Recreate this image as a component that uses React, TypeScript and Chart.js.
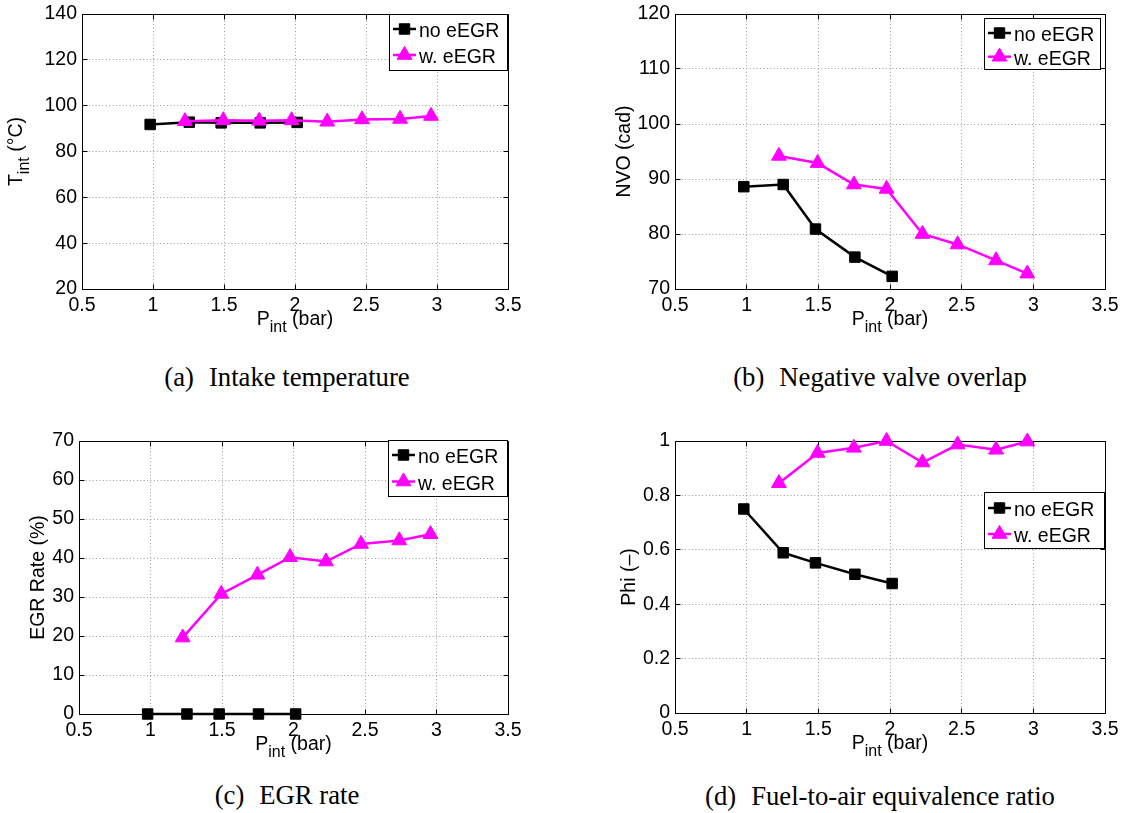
import React, { useEffect, useRef } from 'react';
import { Chart, registerables } from 'chart.js';

Chart.register(...registerables);

// ---------------- data ----------------
const xNoEGR = [0.98, 1.255, 1.48, 1.755, 2.015];
const xWithEGR = [1.225, 1.495, 1.748, 1.976, 2.227, 2.472, 2.74, 2.958];

const tempNoEGR = [91.8, 92.8, 92.5, 92.5, 92.7];
const tempWithEGR = [93.2, 93.6, 93.4, 93.6, 93.0, 94.0, 94.2, 95.5];

const nvoNoEGR = [88.6, 89.0, 80.9, 75.8, 72.3];
const nvoWithEGR = [94.2, 92.9, 89.0, 88.2, 80.0, 78.1, 75.2, 72.8];

const egrNoEGR = [0, 0, 0, 0, 0];
const egrWithEGR = [19.6, 30.8, 35.7, 40.2, 39.1, 43.6, 44.5, 46.1];

const phiNoEGR = [0.75, 0.589, 0.552, 0.51, 0.476];
const phiWithEGR = [0.845, 0.956, 0.975, 1.0, 0.921, 0.987, 0.968, 0.998];

const xTicks = [0.5, 1, 1.5, 2, 2.5, 3, 3.5];
const yTicksTemp = [20, 40, 60, 80, 100, 120, 140];
const yTicksNvo = [70, 80, 90, 100, 110, 120];
const yTicksEgr = [0, 10, 20, 30, 40, 50, 60, 70];
const yTicksPhi = [0, 0.2, 0.4, 0.6, 0.8, 1];

const seriesLabels = ['no eEGR', 'w. eEGR'];
const xTitleParts = ['P', 'int', ' (bar)'];
const captionTags = ['(a)', '(b)', '(c)', '(d)'];
const captionTexts = [
  'Intake temperature',
  'Negative valve overlap',
  'EGR rate',
  'Fuel-to-air equivalence ratio',
];

// ---------------- style ----------------
const BLACK = '#000000';
const MAGENTA = '#ff00ff';
const GRID = '#9a9a9a';
const SANS = '"Liberation Sans", Arial, Helvetica, sans-serif';
const SERIF = '"Liberation Serif", "Times New Roman", serif';
const FS = 19.5;
const SUB = 16;
const SUB_DROP = 7;
const CAP_FS = 26.7;

const ML = 78;
const MT = 16;
const MR = 24;
const MB = 50;

const RECT_R = 7.4;
const TRI_R = 8.6;
const LINE_W = 2.5;

type LegendCfg = { inset: number; dy: number; w: number; h: number; r1: number; r2: number };
type PanelCfg = {
  left: number;
  top: number;
  w: number;
  h: number;
  yTicks: number[];
  yNo: number[];
  yW: number[];
  yTitle: string[];
  yTitleOff: number;
  legend: LegendCfg;
  cap: number;
  capX: number;
  capBase: number;
};

const panels: PanelCfg[] = [
  {
    left: 82, top: 14, w: 426, h: 275,
    yTicks: yTicksTemp, yNo: tempNoEGR, yW: tempWithEGR,
    yTitle: ['T', 'int', ' (°C)'], yTitleOff: 60,
    legend: { inset: 0, dy: 0, w: 119, h: 57, r1: 15, r2: 41 },
    cap: 0, capX: 287, capBase: 386,
  },
  {
    left: 675, top: 14, w: 430, h: 275,
    yTicks: yTicksNvo, yNo: nvoNoEGR, yW: nvoWithEGR,
    yTitle: ['NVO (cad)', '', ''], yTitleOff: 45,
    legend: { inset: 4, dy: 4, w: 117, h: 52, r1: 15, r2: 38.7 },
    cap: 1, capX: 880, capBase: 386,
  },
  {
    left: 79, top: 441, w: 429, h: 273,
    yTicks: yTicksEgr, yNo: egrNoEGR, yW: egrWithEGR,
    yTitle: ['EGR Rate (%)', '', ''], yTitleOff: 35,
    legend: { inset: 0, dy: -1, w: 120, h: 57, r1: 15, r2: 41.5 },
    cap: 2, capX: 287, capBase: 804,
  },
  {
    left: 675, top: 441, w: 430, h: 272,
    yTicks: yTicksPhi, yNo: phiNoEGR, yW: phiWithEGR,
    yTitle: ['Phi (–)', '', ''], yTitleOff: 40,
    legend: { inset: 0, dy: 51, w: 121, h: 57, r1: 16, r2: 42 },
    cap: 3, capX: 880, capBase: 805,
  },
];

const align = (p: number) => Math.round(p - 0.5) + 0.5;

function drawRich(ctx: CanvasRenderingContext2D, parts: string[], x: number, y: number, rot: boolean) {
  const segs = [
    { text: parts[0] || '', size: FS, dy: 0 },
    { text: parts[1] || '', size: SUB, dy: SUB_DROP },
    { text: parts[2] || '', size: FS, dy: 0 },
  ].filter((s) => s.text.length > 0);
  ctx.save();
  ctx.translate(x, y);
  if (rot) ctx.rotate(-Math.PI / 2);
  ctx.fillStyle = BLACK;
  ctx.textAlign = 'left';
  ctx.textBaseline = 'alphabetic';
  let total = 0;
  const widths = segs.map((s) => {
    ctx.font = `${s.size}px ${SANS}`;
    const w = ctx.measureText(s.text).width;
    total += w;
    return w;
  });
  let cx = -total / 2;
  segs.forEach((s, i) => {
    ctx.font = `${s.size}px ${SANS}`;
    ctx.fillText(s.text, cx, s.dy);
    cx += widths[i];
  });
  ctx.restore();
}

function drawMarker(ctx: CanvasRenderingContext2D, style: string, x: number, y: number, color: string) {
  ctx.save();
  ctx.fillStyle = color;
  ctx.strokeStyle = color;
  ctx.lineWidth = 1;
  ctx.beginPath();
  if (style === 'rect') {
    const s = Math.SQRT1_2 * RECT_R;
    ctx.rect(x - s, y - s, 2 * s, 2 * s);
  } else {
    const r = TRI_R;
    ctx.moveTo(x, y - r);
    ctx.lineTo(x + r * Math.sin((2 * Math.PI) / 3), y - r * Math.cos((2 * Math.PI) / 3));
    ctx.lineTo(x + r * Math.sin((4 * Math.PI) / 3), y - r * Math.cos((4 * Math.PI) / 3));
    ctx.closePath();
  }
  ctx.fill();
  ctx.stroke();
  ctx.restore();
}

const decorPlugin = {
  id: 'decor',
  beforeDatasetsDraw(chart: any) {
    const { ctx, chartArea: a } = chart;
    const xs = chart.scales.x;
    const ys = chart.scales.y;
    const L = align(a.left);
    const R = align(a.right);
    const T = align(a.top);
    const B = align(a.bottom);
    const tk = 5;
    ctx.save();
    ctx.strokeStyle = BLACK;
    ctx.lineWidth = 1;
    ctx.setLineDash([]);
    ctx.beginPath();
    ctx.rect(L, T, R - L, B - T);
    xs.ticks.forEach((t: any) => {
      const px = align(xs.getPixelForValue(t.value));
      ctx.moveTo(px, B);
      ctx.lineTo(px, B - tk);
      ctx.moveTo(px, T);
      ctx.lineTo(px, T + tk);
    });
    ys.ticks.forEach((t: any) => {
      const py = align(ys.getPixelForValue(t.value));
      ctx.moveTo(L, py);
      ctx.lineTo(L + tk, py);
      ctx.moveTo(R, py);
      ctx.lineTo(R - tk, py);
    });
    ctx.stroke();
    ctx.restore();
  },
  afterDraw(chart: any, _args: any, opts: any) {
    const { ctx, chartArea: a } = chart;
    const cfg: PanelCfg = opts.cfg;
    // axis titles
    drawRich(ctx, xTitleParts, (a.left + a.right) / 2, a.bottom + 36.4, false);
    drawRich(ctx, cfg.yTitle, a.left - cfg.yTitleOff, (a.top + a.bottom) / 2, true);
    // legend
    const lg = cfg.legend;
    const bx = Math.round(a.right - lg.inset - lg.w);
    const by = Math.round(a.top + lg.dy);
    ctx.save();
    ctx.fillStyle = '#ffffff';
    ctx.fillRect(bx, by, lg.w, lg.h);
    ctx.strokeStyle = BLACK;
    ctx.lineWidth = 1;
    ctx.strokeRect(bx + 0.5, by + 0.5, lg.w - 1, lg.h - 1);
    const rows = [lg.r1, lg.r2];
    chart.data.datasets.forEach((ds: any, i: number) => {
      const ry = by + rows[i];
      ctx.strokeStyle = ds.borderColor;
      ctx.lineWidth = LINE_W;
      ctx.beginPath();
      ctx.moveTo(bx + 4, ry);
      ctx.lineTo(bx + 27, ry);
      ctx.stroke();
      drawMarker(ctx, ds.pointStyle, bx + 15.5, ry, ds.borderColor);
      ctx.fillStyle = BLACK;
      ctx.font = `${FS}px ${SANS}`;
      ctx.textAlign = 'left';
      ctx.textBaseline = 'alphabetic';
      ctx.fillText(ds.label, bx + 30, ry + 8);
    });
    ctx.restore();
  },
};

function PanelChart({ cfg }: { cfg: PanelCfg }) {
  const ref = useRef<HTMLCanvasElement | null>(null);
  const cw = ML + cfg.w + MR;
  const ch = MT + cfg.h + MB;

  useEffect(() => {
    const canvas = ref.current;
    if (!canvas) return;
    const zeroPad = (s: any) => {
      s.paddingLeft = 0;
      s.paddingRight = 0;
      s.paddingTop = 0;
      s.paddingBottom = 0;
    };
    const tickFont = { family: SANS, size: FS };
    const chart = new Chart(canvas, {
      type: 'scatter',
      data: {
        datasets: [
          {
            label: seriesLabels[0],
            data: xNoEGR.map((x, i) => ({ x, y: cfg.yNo[i] })),
            borderColor: BLACK,
            backgroundColor: BLACK,
            pointBackgroundColor: BLACK,
            pointBorderColor: BLACK,
            pointStyle: 'rect',
            pointRadius: RECT_R,
            pointBorderWidth: 1,
            borderWidth: LINE_W,
            showLine: true,
            tension: 0,
            clip: false,
            order: 1,
          },
          {
            label: seriesLabels[1],
            data: xWithEGR.map((x, i) => ({ x, y: cfg.yW[i] })),
            borderColor: MAGENTA,
            backgroundColor: MAGENTA,
            pointBackgroundColor: MAGENTA,
            pointBorderColor: MAGENTA,
            pointStyle: 'triangle',
            pointRadius: TRI_R,
            pointBorderWidth: 1,
            borderWidth: LINE_W,
            showLine: true,
            tension: 0,
            clip: false,
            order: 0,
          },
        ],
      } as any,
      options: {
        responsive: false,
        animation: false,
        devicePixelRatio: 1,
        events: [],
        layout: { padding: { left: 0, top: MT, right: MR, bottom: 0 } },
        plugins: {
          legend: { display: false },
          tooltip: { enabled: false },
          decor: { cfg },
        } as any,
        scales: {
          x: {
            type: 'linear',
            min: xTicks[0],
            max: xTicks[xTicks.length - 1],
            afterBuildTicks: (s: any) => {
              s.ticks = xTicks.map((v) => ({ value: v }));
            },
            afterFit: (s: any) => {
              s.height = MB;
              zeroPad(s);
            },
            grid: { color: GRID, lineWidth: 1, drawTicks: false },
            border: { display: false, dash: [1, 2.4] },
            ticks: {
              autoSkip: false,
              maxRotation: 0,
              minRotation: 0,
              padding: 4.5,
              color: BLACK,
              font: tickFont,
              callback: (v: any) => String(v),
            },
          },
          y: {
            type: 'linear',
            min: cfg.yTicks[0],
            max: cfg.yTicks[cfg.yTicks.length - 1],
            afterBuildTicks: (s: any) => {
              s.ticks = cfg.yTicks.map((v) => ({ value: v }));
            },
            afterFit: (s: any) => {
              s.width = ML;
              zeroPad(s);
            },
            grid: { color: GRID, lineWidth: 1, drawTicks: false },
            border: { display: false, dash: [1, 2.4] },
            ticks: {
              autoSkip: false,
              padding: 5,
              color: BLACK,
              font: tickFont,
              callback: (v: any) => String(v),
            },
          },
        } as any,
      },
      plugins: [decorPlugin as any],
    });
    return () => chart.destroy();
  }, [cfg]);

  return (
    <canvas
      ref={ref}
      width={cw}
      height={ch}
      style={{
        position: 'absolute',
        left: cfg.left - ML,
        top: cfg.top - MT,
        width: cw,
        height: ch,
      }}
    />
  );
}

function Caption({ cfg }: { cfg: PanelCfg }) {
  return (
    <div
      style={{
        position: 'absolute',
        left: cfg.capX - 300,
        width: 600,
        top: cfg.capBase - 22.36,
        textAlign: 'center',
        fontFamily: SERIF,
        fontSize: CAP_FS,
        lineHeight: 1,
        color: BLACK,
        whiteSpace: 'nowrap',
      }}
    >
      <span>{captionTags[cfg.cap]}</span>
      <span style={{ display: 'inline-block', width: 15 }} />
      <span>{captionTexts[cfg.cap]}</span>
    </div>
  );
}

export default function App() {
  return (
    <div>
      {panels.map((p, i) => (
        <React.Fragment key={i}>
          <PanelChart cfg={p} />
          <Caption cfg={p} />
        </React.Fragment>
      ))}
    </div>
  );
}
